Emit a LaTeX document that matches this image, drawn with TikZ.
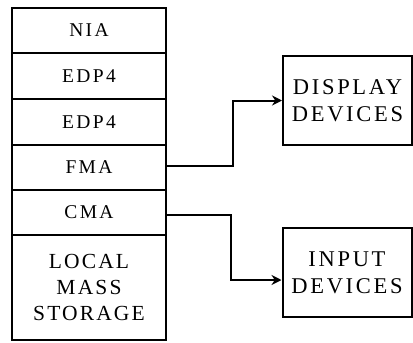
\documentclass[tikz,border=0pt]{standalone}
\usepackage{fontspec}
\setmainfont{Liberation Serif}
\usetikzlibrary{arrows.meta}
\begin{document}
\begin{tikzpicture}[x=1pt,y=-1pt,
  cell/.style={draw,line width=2pt,minimum width=154pt,inner sep=0pt,align=center,
    font=\fontsize{19.5}{22}\selectfont\addfontfeatures{LetterSpace=12}},
  devbox/.style={draw,line width=2pt,minimum width=129pt,minimum height=89pt,inner sep=0pt,align=center,
    font=\fontsize{22.5}{27}\selectfont\addfontfeatures{LetterSpace=12}},
  conn/.style={line width=2pt},
  arr/.style={conn,-{Stealth[length=10pt,width=10pt]}}]
\useasboundingbox (0,0) rectangle (413,343);
\node[cell,minimum height=45pt] (nia) at (89,30.5) {NIA};
\node[cell,minimum height=46pt] (edpa) at (89,76) {EDP4};
\node[cell,minimum height=46pt] (edpb) at (89,122) {EDP4};
\node[cell,minimum height=45pt] (fma) at (89,167.5) {FMA};
\node[cell,minimum height=45pt] (cma) at (89,212.5) {CMA};
\node[cell,minimum height=105pt,font=\fontsize{21.5}{26}\selectfont\addfontfeatures{LetterSpace=10}] (lms) at (89,287.5) {LOCAL\\MASS\\STORAGE};
\node[devbox] (disp) at (347.5,100.5) {DISPLAY\\DEVICES};
\node[devbox] (inp) at (347,272.5) {INPUT\\DEVICES};
\draw[arr] ([yshift=2pt]fma.east) -- ++(66,0) |- (disp.west);
\draw[arr] ([yshift=-2.5pt]cma.east) -- ++(64,0) |- ([yshift=-7.5pt]inp.west);
\end{tikzpicture}
\end{document}
